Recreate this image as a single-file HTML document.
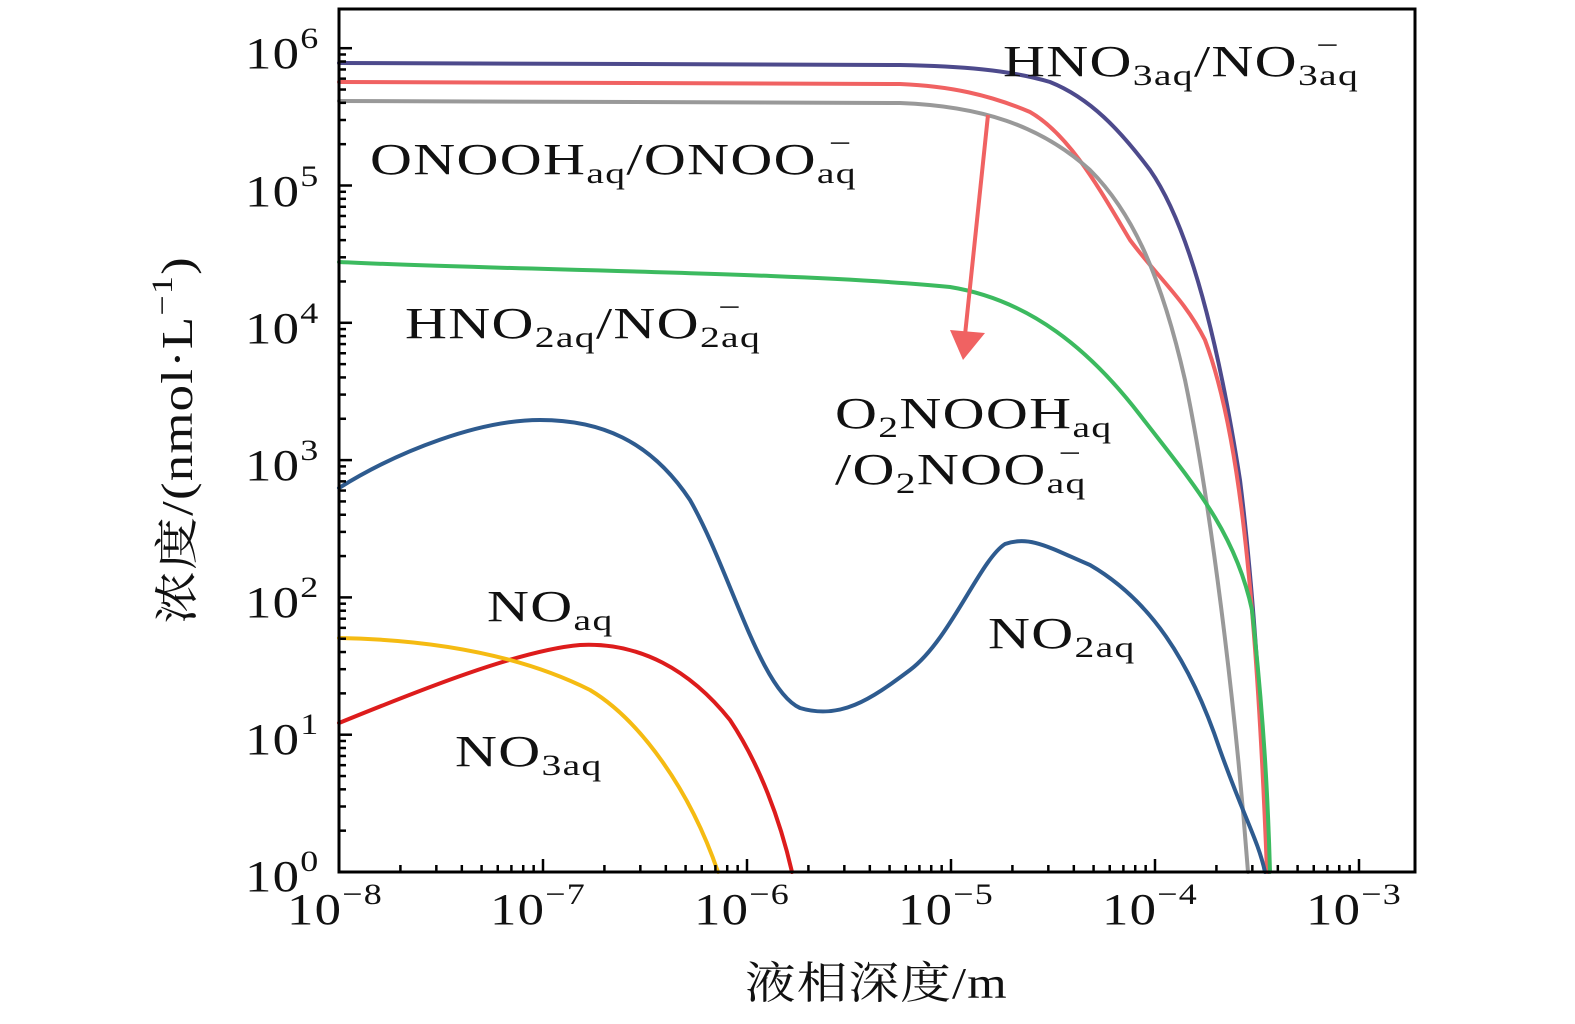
<!DOCTYPE html>
<html><head><meta charset="utf-8"><style>
body{margin:0;background:#fff;width:1575px;height:1024px;overflow:hidden;position:relative;font-family:"Liberation Serif","Noto Serif CJK SC",serif;color:#111}
.t{position:absolute;font-size:44px;line-height:1;white-space:nowrap;transform-origin:0 0;letter-spacing:1px}
.l{transform:scaleX(1.32)}
.k{transform:scaleX(1.2)}
sub{font-size:30px;vertical-align:-9px;line-height:0}
sup{font-size:30px;vertical-align:20px;line-height:0}
.ss{display:inline-block;position:relative;font-size:30px;vertical-align:-9px}
.ss i{font-style:normal;position:absolute;left:30%;top:-30px}
</style></head><body>
<svg width="1575" height="1024" style="position:absolute;left:0;top:0">
<g fill="none" stroke-linecap="round" stroke-linejoin="round">
<path d="M339,63 L900,65 C960,66 1010,70 1050,82 C1090,98 1120,130 1150,170 C1185,220 1215,320 1240,480 C1255,600 1264,760 1268,872" stroke="#4d4a8c" stroke-width="4"/>
<path d="M339,82 L900,84 C950,86 990,95 1030,112 C1070,135 1100,190 1130,240 C1160,280 1185,300 1205,340 C1235,420 1255,560 1267,872" stroke="#f06262" stroke-width="4"/>
<path d="M339,101 L900,103 C980,106 1040,125 1090,170 C1130,210 1160,270 1185,380 C1210,500 1235,700 1248,872" stroke="#999" stroke-width="4"/>
<path d="M339,262 C500,270 800,272 950,287 C1030,300 1090,350 1140,415 C1190,480 1235,530 1252,610 C1264,720 1268,800 1270,872" stroke="#3cba5f" stroke-width="4"/>
<path d="M339,488 C400,450 480,420 540,420 C600,420 650,440 690,500 C730,570 760,690 800,708 C840,720 870,700 910,670 C950,640 980,560 1005,544 C1030,535 1050,548 1090,565 C1150,600 1190,660 1220,750 C1245,820 1258,840 1265,872" stroke="#2e5b8f" stroke-width="4"/>
<path d="M339,723 C420,690 520,650 580,645 C640,642 690,670 730,720 C760,765 780,820 792,872" stroke="#dd1c1c" stroke-width="4"/>
<path d="M339,638 C450,640 530,660 590,690 C640,720 690,790 718,872" stroke="#f5bb12" stroke-width="4"/>
</g>
<line x1="988" y1="115" x2="965" y2="335" stroke="#f06262" stroke-width="4"/>
<polygon points="950,330 985,333 963,360" fill="#f06262"/>
<rect x="339" y="9" width="1076" height="863" fill="none" stroke="#000" stroke-width="3"/>
<g stroke="#000" stroke-width="2.5" id="ticks"></g>
</svg>
<div class="t k" style="left:245px;top:32px">10<sup>6</sup></div>
<div class="t k" style="left:245px;top:170px">10<sup>5</sup></div>
<div class="t k" style="left:245px;top:307px">10<sup>4</sup></div>
<div class="t k" style="left:245px;top:444px">10<sup>3</sup></div>
<div class="t k" style="left:245px;top:581px">10<sup>2</sup></div>
<div class="t k" style="left:245px;top:718px">10<sup>1</sup></div>
<div class="t k" style="left:245px;top:855px">10<sup>0</sup></div>
<div class="t k" style="left:287px;top:888px">10<sup>−8</sup></div>
<div class="t k" style="left:490px;top:888px">10<sup>−7</sup></div>
<div class="t k" style="left:694px;top:888px">10<sup>−6</sup></div>
<div class="t k" style="left:898px;top:888px">10<sup>−5</sup></div>
<div class="t k" style="left:1102px;top:888px">10<sup>−4</sup></div>
<div class="t k" style="left:1306px;top:888px">10<sup>−3</sup></div>
<div class="t" style="left:745px;top:962px;transform:scaleX(1.15)">液相深度/m</div>
<div class="t" style="left:-122px;top:418px;width:600px;text-align:center;transform-origin:50% 50%;transform:rotate(-90deg) scaleX(1.2)">浓度/(nmol·L<sup>−1</sup>)</div>
<div class="t l" style="left:1003px;top:40px">HNO<sub>3aq</sub>/NO<span class="ss"><i>−</i>3aq</span></div>
<div class="t l" style="left:370px;top:138px">ONOOH<sub>aq</sub>/ONOO<span class="ss"><i>−</i>aq</span></div>
<div class="t l" style="left:405px;top:302px">HNO<sub>2aq</sub>/NO<span class="ss"><i>−</i>2aq</span></div>
<div class="t l" style="left:835px;top:392px">O<sub>2</sub>NOOH<sub>aq</sub></div>
<div class="t l" style="left:835px;top:448px">/O<sub>2</sub>NOO<span class="ss"><i>−</i>aq</span></div>
<div class="t l" style="left:487px;top:585px">NO<sub>aq</sub></div>
<div class="t l" style="left:988px;top:612px">NO<sub>2aq</sub></div>
<div class="t l" style="left:455px;top:730px">NO<sub>3aq</sub></div>
<script>
var g=document.getElementById('ticks'),s='';
var x0=339,dx=204,y0=872,dy=137.3;
for(var d=0;d<6;d++){for(var k=1;k<10;k++){var x=x0+dx*(d+Math.log10(k));if(x>1414)break;var L=k==1?13:7;s+='<line x1="'+x+'" y1="'+y0+'" x2="'+x+'" y2="'+(y0-L)+'"/>';}}
for(var d=0;d<7;d++){for(var k=1;k<10;k++){var y=y0-dy*(d+Math.log10(k));if(y<10)break;var L=k==1?13:7;s+='<line x1="'+x0+'" y1="'+y+'" x2="'+(x0+L)+'" y2="'+y+'"/>';}}
g.innerHTML=s;
</script>
</body></html>
